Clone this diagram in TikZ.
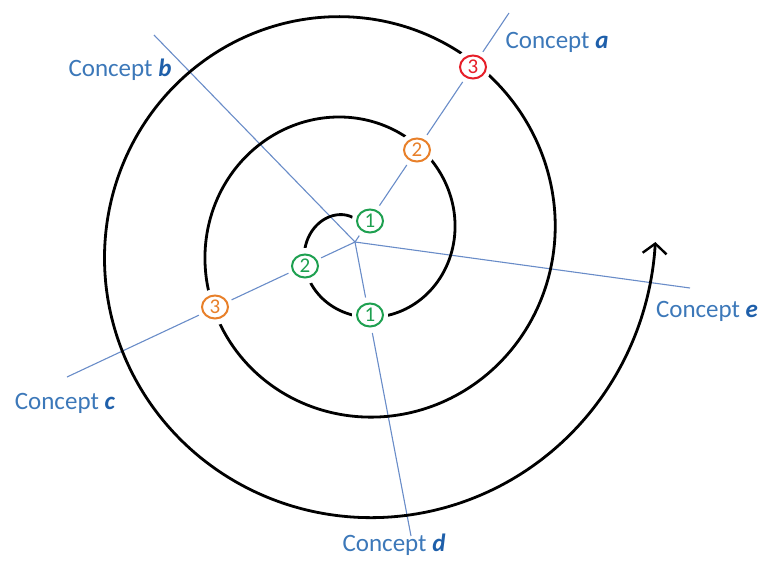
\documentclass[tikz,border=0pt]{standalone}
\usepackage{fontspec}
\setmainfont{Carlito}
\usetikzlibrary{shapes.geometric,arrows.meta}
\definecolor{cgreen}{RGB}{30,160,80}
\definecolor{corange}{RGB}{232,128,42}
\definecolor{cred}{RGB}{230,30,40}
\definecolor{cline}{RGB}{105,140,200}
\definecolor{ctext}{RGB}{60,120,185}
\definecolor{cletter}{RGB}{30,95,170}
\newcommand{\cpt}[1]{Concept \textcolor{cletter}{\textbf{\textit{#1}}}}
\begin{document}
\begin{tikzpicture}[x=1pt,y=-1pt,
  ray/.style={cline, line width=1.1pt},
  num/.style={ellipse, draw, line width=2pt, fill=white, minimum width=26pt, minimum height=23pt, inner sep=0pt, font=\fontsize{21}{21}\selectfont},
  lbl/.style={text=ctext, font=\fontsize{25}{25}\selectfont, inner sep=0pt},
  spiral/.style={line width=2.8pt, black, -{Straight Barb[length=10pt,width=24pt,line width=2.4pt]}}]
\useasboundingbox (0,0) rectangle (766,560);
\coordinate (O) at (355,242);
\coordinate (ea) at (509,13);
\coordinate (eb) at (154,35);
\coordinate (ec) at (67,377);
\coordinate (ed) at (411,536);
\coordinate (ee) at (690,288);
\draw[ray] (O) -- (ea);
\draw[ray] (O) -- (eb);
\draw[ray] (O) -- (ec);
\draw[ray] (O) -- (ed);
\draw[ray] (O) -- (ee);
\draw[spiral] plot[domain=95:1080, samples=400, smooth, variable=\t]
  ({355+(0.28*\t-2)*cos(\t)}, {242-(0.28*\t-2)*sin(\t)});
% white halos around the numbered marks
\foreach \p in {(370,221),(305,266),(370,315),(417,150),(215,307),(473,67)}
  \fill[white] \p circle (18);
\node[num, draw=cgreen, text=cgreen] (g1a) at (370,221) {1};
\node[num, draw=cgreen, text=cgreen] (g2c) at (305,266) {2};
\node[num, draw=cgreen, text=cgreen] (g1d) at (370,315) {1};
\node[num, draw=corange, text=corange] (o2a) at (417,150) {2};
\node[num, draw=corange, text=corange] (o3c) at (215,307) {3};
\node[num, draw=cred, text=cred] (r3a) at (473,67) {3};
\node[lbl] (la) at (557,42) {\cpt{a}};
\node[lbl] (lb) at (120,70) {\cpt{b}};
\node[lbl] (lc) at (65,403) {\cpt{c}};
\node[lbl] (ld) at (394,545) {\cpt{d}};
\node[lbl] (le) at (707,311) {\cpt{e}};
\end{tikzpicture}
\end{document}
